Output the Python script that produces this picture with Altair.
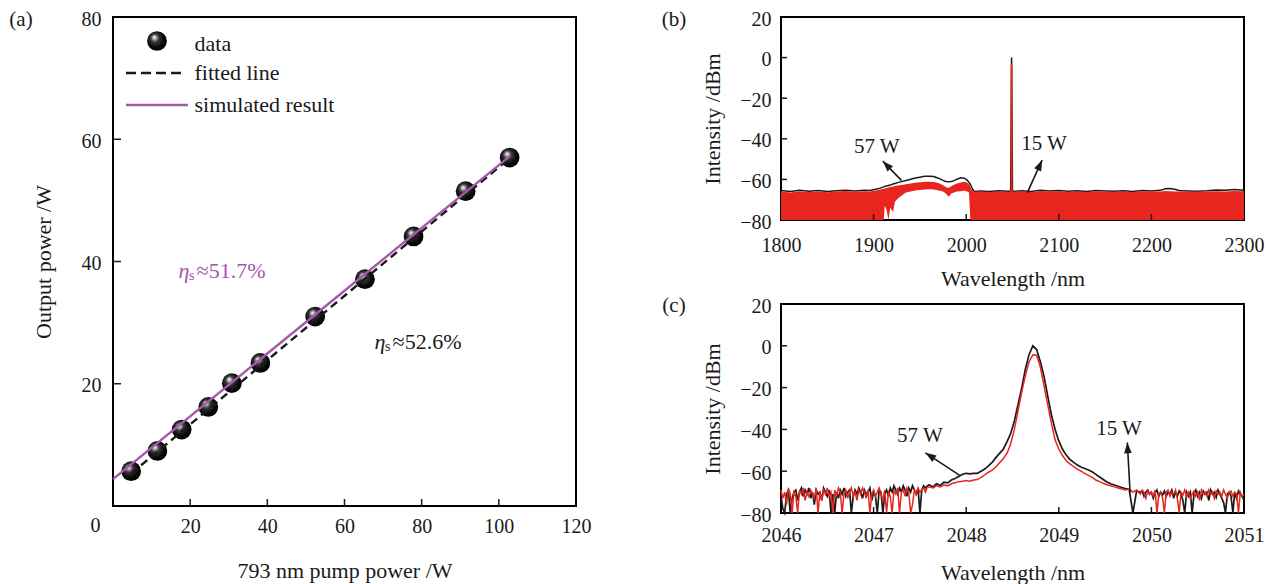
import math
import altair as alt
import pandas as pd

FONT = "Liberation Serif"
INK = "#1a1a1a"
RED = "#e8251f"
PURPLE = "#a557a9"

# ---------------- panel (a) data ----------------
pump_w = [4.7, 11.5, 17.8, 24.7, 30.8, 38.2, 52.4, 65.3, 77.9, 91.4, 102.8]
output_w = [5.7, 9.0, 12.5, 16.2, 20.1, 23.4, 31.0, 37.1, 44.1, 51.5, 57.0]
fit_x = [4.7, 102.8]
fit_y = [5.3, 56.9]
sim_x = [0.0, 102.8]
sim_y = [4.4, 57.2]
a_xticks = [20, 40, 60, 80, 100, 120]
a_yticks = [20, 40, 60, 80]
eta_values = ["≈51.7%", "≈52.6%"]
eta_x = [17.0, 67.8]
eta_y = [38.5, 26.8]
eta_colors = [PURPLE, INK]
legend_labels = ["data", "fitted line", "simulated result"]

# ---------------- panel (b) data ----------------
b_wl = [1800, 1810, 1820, 1830, 1840, 1850, 1860, 1870, 1880, 1890, 1896, 1902, 1907,
        1911, 1912, 1914, 1916, 1918, 1921, 1923, 1926, 1930, 1935, 1940, 1945, 1950,
        1955, 1960, 1965, 1970, 1975, 1978, 1981, 1984, 1987, 1990, 1994, 1998, 2001,
        2003, 2004.5, 2006, 2008, 2010, 2015, 2025, 2035, 2045, 2047.9, 2048, 2049, 2050,
        2050.1, 2053, 2060, 2070, 2080, 2090, 2100, 2110, 2120, 2130, 2140, 2150, 2160, 2170, 2180,
        2190, 2200, 2210, 2215, 2220, 2225, 2230, 2240, 2250, 2260, 2270, 2280, 2290, 2300]
b_black = [-65.5, -66.0, -65.4, -65.8, -65.5, -65.9, -65.6, -65.3, -65.7, -65.4, -65.5, -64.9, -64.3,
           -63.7, -63.5, -63.2, -63.0, -62.8, -62.3, -62.0, -61.6, -61.1, -60.5, -59.9, -59.3, -58.9,
           -58.5, -58.4, -58.6, -59.4, -60.5, -61.0, -61.2, -61.0, -60.6, -59.9, -59.2, -59.4, -60.3,
           -61.5, -62.5, -64.0, -65.5, -66.0, -65.7, -65.9, -65.6, -65.8, -65.8, -66.0, 0.0, -66.0,
           -65.8, -65.8, -65.6, -65.9, -65.3, -65.7, -65.5, -65.8, -65.6, -65.9, -65.5, -65.7, -65.8, -65.6, -65.9,
           -65.5, -65.7, -65.4, -64.6, -64.5, -64.9, -65.5, -65.7, -65.8, -65.6, -65.2, -65.4, -65.0, -65.3]
b_red_top = [-65.9, -66.4, -65.8, -66.2, -66.0, -66.3, -65.9, -65.7, -66.1, -65.8, -65.9, -65.5, -65.0,
             -64.6, -64.5, -64.2, -64.0, -63.8, -63.5, -63.3, -63.0, -62.7, -62.4, -62.0, -61.7, -61.4,
             -61.2, -61.1, -61.3, -61.8, -62.9, -63.8, -64.2, -63.4, -62.6, -62.0, -61.5, -61.2, -61.6,
             -62.4, -63.6, -65.1, -65.8, -66.1, -65.8, -66.2, -65.9, -66.1, -65.9, -3.6, -3.0, -3.6,
             -65.9, -66.0, -65.8, -66.2, -65.7, -66.0, -65.8, -66.1, -65.9, -66.2, -65.8, -66.0, -66.1, -65.9, -66.2,
             -65.8, -66.0, -65.9, -65.7, -65.8, -66.0, -65.9, -66.1, -66.0, -65.9, -65.8, -65.9, -65.7, -65.8]
b_red_bottom = [-80, -80, -80, -80, -80, -80, -80, -80, -80, -80, -80, -80, -80,
                -80, -73, -75, -80, -74, -76, -71, -69.5, -68, -66.5, -66, -65.5, -65.2,
                -65, -64.9, -65, -65.5, -66, -67, -68.5, -67, -66.5, -66, -65.8, -65.6, -66,
                -66.5, -80, -80, -80, -80, -80, -80, -80, -80, -80, -80, -80, -80,
                -80, -80, -80, -80, -80, -80, -80, -80, -80, -80, -80, -80, -80, -80, -80,
                -80, -80, -80, -80, -80, -80, -80, -80, -80, -80, -80, -80, -80, -80]
b_labels = ["57 W", "15 W"]
b_label_x = [1903.5, 2084.0]
b_label_y = [-43.8, -42.6]
b_arrow_tail_x = [1930.0, 2066.0]
b_arrow_tail_y = [-60.5, -66.5]
b_arrow_head_x = [1910.0, 2082.0]
b_arrow_head_y = [-51.0, -50.5]

# ---------------- panel (c) data ----------------
c_wl_left = [
    2046.00, 2046.02, 2046.04, 2046.06, 2046.08, 2046.10, 2046.12, 2046.14, 2046.16, 2046.18,
    2046.20, 2046.22, 2046.24, 2046.26, 2046.28, 2046.30, 2046.32, 2046.34, 2046.36, 2046.38,
    2046.40, 2046.42, 2046.44, 2046.46, 2046.48, 2046.50, 2046.52, 2046.54, 2046.56, 2046.58,
    2046.60, 2046.62, 2046.64, 2046.66, 2046.68, 2046.70, 2046.72, 2046.74, 2046.76, 2046.78,
    2046.80, 2046.82, 2046.84, 2046.86, 2046.88, 2046.90, 2046.92, 2046.94, 2046.96, 2046.98,
    2047.00, 2047.02, 2047.04, 2047.06, 2047.08, 2047.10, 2047.12, 2047.14, 2047.16, 2047.18,
    2047.20, 2047.22, 2047.24, 2047.26, 2047.28, 2047.30, 2047.32, 2047.34, 2047.36, 2047.38,
    2047.40, 2047.42, 2047.44, 2047.46, 2047.48, 2047.50, 2047.52, 2047.54, 2047.56, 2047.58,
    2047.60]
c_wl_mid = [
    2047.64, 2047.68, 2047.72, 2047.76, 2047.80, 2047.84, 2047.88, 2047.92, 2047.96,
    2048.00, 2048.04, 2048.08, 2048.12, 2048.16, 2048.20, 2048.24, 2048.28, 2048.32, 2048.36,
    2048.40, 2048.44, 2048.48, 2048.52, 2048.56, 2048.60, 2048.64, 2048.68, 2048.72, 2048.76,
    2048.80, 2048.84, 2048.88, 2048.92, 2048.96,
    2049.00, 2049.04, 2049.08, 2049.12, 2049.16, 2049.20, 2049.24, 2049.28, 2049.32, 2049.36,
    2049.40, 2049.44, 2049.48, 2049.52, 2049.56, 2049.60, 2049.64, 2049.68, 2049.72, 2049.76,
    2049.80, 2049.84]
c_wl_right = [
    2049.88, 2049.90, 2049.92, 2049.94, 2049.96, 2049.98,
    2050.00, 2050.02, 2050.04, 2050.06, 2050.08, 2050.10, 2050.12, 2050.14, 2050.16, 2050.18,
    2050.20, 2050.22, 2050.24, 2050.26, 2050.28, 2050.30, 2050.32, 2050.34, 2050.36, 2050.38,
    2050.40, 2050.42, 2050.44, 2050.46, 2050.48, 2050.50, 2050.52, 2050.54, 2050.56, 2050.58,
    2050.60, 2050.62, 2050.64, 2050.66, 2050.68, 2050.70, 2050.72, 2050.74, 2050.76, 2050.78,
    2050.80, 2050.82, 2050.84, 2050.86, 2050.88, 2050.90, 2050.92, 2050.94, 2050.96, 2050.98,
    2051.00]
c_black = [
    -72, -78, -80, -71, -69, -80, -73, -70, -69, -74,
    -70, -68, -72, -69, -71, -68, -73, -70, -76, -69,
    -71, -70, -74, -68, -70, -72, -69, -80, -71, -80,
    -70, -73, -69, -71, -68, -72, -70, -69, -80, -72,
    -69, -71, -68, -70, -73, -69, -71, -70, -68, -74,
    -70, -72, -80, -69, -70, -80, -71, -69, -72, -68,
    -70, -67, -69, -71, -68, -70, -67, -69, -72, -68,
    -70, -67, -69, -71, -68, -80, -69, -67, -68, -67,
    -66.5,
    -67.5, -66, -66.8, -65.2, -65.6, -64.2, -63.5, -62.5, -61.5,
    -61, -61.3, -61, -61, -60, -59, -57.5, -55.8, -53.5, -51.5,
    -49.5, -46, -42, -36, -28, -20, -11, -4, 0, -1.8,
    -7.5, -14.5, -24, -33, -40,
    -45.5, -49.5, -52.3, -54.3, -55.8, -57, -58, -58.7, -59.4, -60.3,
    -61.5, -62.8, -64, -65.2, -66, -66.6, -67.2, -67.8, -68.3, -68.7,
    -80, -69.5,
    -70, -69.5, -72, -70, -69, -71,
    -70, -73, -70.5, -69, -72, -70, -71.5, -69.5, -72, -70,
    -71, -69, -73, -70, -72, -69.5, -71, -74, -80, -70,
    -72, -70, -80, -71, -69, -72, -70, -73, -69.5, -71,
    -70, -74, -69, -71, -70, -72.5, -69, -71, -73, -75,
    -80, -71, -70, -72, -80, -70, -73, -69.5, -71, -72,
    -74]
c_red = [
    -69, -73, -70, -76, -68, -71, -80, -70, -72, -80,
    -69, -71, -68, -74, -70, -72, -69, -71, -73, -68,
    -80, -70, -74, -69, -71, -68, -72, -70, -80, -69,
    -72, -68, -70, -80, -71, -69, -73, -70, -68, -72,
    -70, -74, -69, -71, -68, -70, -73, -69, -80, -71,
    -69, -72, -70, -68, -71, -74, -69, -80, -70, -72,
    -80, -69, -71, -68, -80, -70, -69, -72, -68, -70,
    -80, -76, -69, -71, -68, -70, -69, -68, -70, -67.5,
    -67.5,
    -68, -67, -67.5, -66.5, -67, -66, -65.5, -65, -64.8,
    -64.5, -64.8, -64.2, -64, -63, -61.8, -60.5, -59.5, -58, -56,
    -54, -51.5, -47, -40, -31, -22, -14, -7.5, -4.3, -4.5,
    -10, -19, -28, -37, -45,
    -49.5, -52.5, -55, -56.5, -57.8, -59, -60, -61, -62, -63,
    -64.2, -65, -65.8, -66.5, -67, -67.5, -68, -68.5, -69, -68.5,
    -70, -69,
    -71, -69, -70, -73, -69.5, -71,
    -70, -72, -69, -80, -71, -70, -72.5, -80, -70, -69,
    -72, -70, -71, -69, -73, -80, -70, -71.5, -69, -72,
    -70, -73, -71, -69.5, -72, -70, -74, -69, -71, -70,
    -72, -69, -71, -70, -73, -69.5, -71, -70, -72, -69,
    -71, -73, -70, -69.5, -72, -70, -71, -80, -70, -72,
    -71]
c_labels = ["57 W", "15 W"]
c_label_x = [2047.5, 2049.65]
c_label_y = [-43.2, -39.6]
c_arrow_tail_x = [2047.93, 2049.77]
c_arrow_tail_y = [-62.0, -70.3]
c_arrow_head_x = [2047.56, 2049.74]
c_arrow_head_y = [-51.2, -46.3]

# ---------------- layout ----------------
AW, AH = 463, 489
BW, BH = 463, 203
CW, CH = 463, 209

SPHERE = {
    "gradient": "radial", "x1": 0.36, "y1": 0.3, "r1": 0.0,
    "x2": 0.45, "y2": 0.45, "r2": 0.58,
    "stops": [
        {"offset": 0.0, "color": "#ffffff"},
        {"offset": 0.12, "color": "#c8c8c8"},
        {"offset": 0.35, "color": "#3a3a3a"},
        {"offset": 0.7, "color": "#0b0b0b"},
        {"offset": 1.0, "color": "#000000"},
    ],
}
ARROW = "M0,0L0.36,1L-0.36,1Z"


def one(text):
    return pd.DataFrame({"t": [text]})


class Panel:
    def __init__(self, sx, sy, ax, ay):
        self.sx, self.sy, self.ax, self.ay = sx, sy, ax, ay

    def X(self, f):
        return alt.X(f, scale=self.sx, axis=self.ax)

    def Y(self, f):
        return alt.Y(f, scale=self.sy, axis=self.ay)


def xticks(P, vals, H, length=7):
    return alt.Chart(pd.DataFrame({"x": vals})).mark_rule(color=INK, strokeWidth=1.5).encode(
        x=P.X("x:Q"), y=alt.value(H), y2=alt.value(H - length))


def yticks(P, vals, length=8):
    return alt.Chart(pd.DataFrame({"y": vals})).mark_rule(color=INK, strokeWidth=1.5).encode(
        y=P.Y("y:Q"), x=alt.value(0), x2=alt.value(length))


def arrows(P, tx, ty, hx, hy, xdom, ydom, W, H):
    kx = W / (xdom[1] - xdom[0])
    ky = H / (ydom[1] - ydom[0])
    ang = []
    for a, b, c, d in zip(tx, ty, hx, hy):
        dx = (c - a) * kx
        dy = -(d - b) * ky
        ang.append(math.degrees(math.atan2(dx, -dy)) % 360)
    df = pd.DataFrame({"x": tx, "y": ty, "hx": hx, "hy": hy, "ang": ang})
    shaft = alt.Chart(df).mark_rule(color=INK, strokeWidth=1.6).encode(
        x=P.X("x:Q"), y=P.Y("y:Q"), x2="hx:Q", y2="hy:Q")
    head = alt.Chart(df).mark_point(shape=ARROW, filled=True, size=460, color=INK,
                                    opacity=1, strokeWidth=0).encode(
        x=P.X("hx:Q"), y=P.Y("hy:Q"), angle=alt.Angle("ang:Q", scale=None))
    return [shaft, head]


def tag(text, y=3):
    return alt.Chart(one(text)).mark_text(fontSize=21, color=INK, baseline="middle").encode(
        x=alt.value(-92 if text == "(a)" else -107), y=alt.value(y), text="t:N")


# ---------------- panel (a) ----------------
PA = Panel(
    alt.Scale(domain=[0, 120], nice=False, zero=False),
    alt.Scale(domain=[0, 80], nice=False, zero=False),
    alt.Axis(values=a_xticks, title="793 nm pump power /W", labelPadding=10, titleY=64,
             titleBaseline="middle"),
    alt.Axis(values=a_yticks, title="Output power /W", labelPadding=12, labelOffset=2,
             titleX=-70, titleBaseline="middle"),
)

a_points = alt.Chart(pd.DataFrame({"x": pump_w, "y": output_w})).mark_circle(
    size=390, fill=SPHERE, opacity=1, fillOpacity=1).encode(x=PA.X("x:Q"), y=PA.Y("y:Q"))
a_fit = alt.Chart(pd.DataFrame({"x": fit_x, "y": fit_y})).mark_line(
    color=INK, strokeWidth=2.4, strokeDash=[8, 5]).encode(x=PA.X("x:Q"), y=PA.Y("y:Q"))
a_sim = alt.Chart(pd.DataFrame({"x": sim_x, "y": sim_y})).mark_line(
    color=PURPLE, strokeWidth=2.4).encode(x=PA.X("x:Q"), y=PA.Y("y:Q"))

eta_df = pd.DataFrame({"x": eta_x, "y": eta_y, "v": eta_values, "c": eta_colors,
                       "eta": ["η", "η"], "s": ["s", "s"]})
a_eta1 = alt.Chart(eta_df).mark_text(fontSize=22, fontStyle="italic", align="left",
                                     baseline="middle").encode(
    x=PA.X("x:Q"), y=PA.Y("y:Q"), color=alt.Color("c:N", scale=None), text="eta:N")
a_eta2 = alt.Chart(eta_df).mark_text(fontSize=14, align="left", baseline="middle",
                                     dx=10.5, dy=5).encode(
    x=PA.X("x:Q"), y=PA.Y("y:Q"), color=alt.Color("c:N", scale=None), text="s:N")
a_eta3 = alt.Chart(eta_df).mark_text(fontSize=22, align="left", baseline="middle",
                                     dx=18).encode(
    x=PA.X("x:Q"), y=PA.Y("y:Q"), color=alt.Color("c:N", scale=None), text="v:N")

leg_sphere = alt.Chart(one("data")).mark_circle(size=390, fill=SPHERE, opacity=1, fillOpacity=1).encode(
    x=alt.value(44), y=alt.value(24))
leg_dash = alt.Chart(one("fit")).mark_rule(color=INK, strokeWidth=2.6, strokeDash=[10, 5]).encode(
    x=alt.value(13), x2=alt.value(70), y=alt.value(56))
leg_line = alt.Chart(one("sim")).mark_rule(color=PURPLE, strokeWidth=2.6).encode(
    x=alt.value(13), x2=alt.value(75), y=alt.value(88))
leg_text = [
    alt.Chart(one(lbl)).mark_text(fontSize=22, color=INK, align="left", baseline="middle").encode(
        x=alt.value(81.5), y=alt.value(yy), text="t:N")
    for lbl, yy in zip(legend_labels, [27, 56, 88])
]
a_zero = alt.Chart(one("0")).mark_text(fontSize=20, color=INK, baseline="middle").encode(
    x=alt.value(-17.5), y=alt.value(AH + 20), text="t:N")

panel_a = alt.layer(
    a_points, a_fit, a_sim,
    xticks(PA, [20, 40, 60, 80, 100], AH), yticks(PA, [20, 40, 60]),
    a_eta1, a_eta2, a_eta3, leg_sphere, leg_dash, leg_line, *leg_text, a_zero, tag("(a)"),
).properties(width=AW, height=AH)

# ---------------- panel (b) ----------------
xdom_b, ydom = [1800, 2300], [-80, 20]
PB = Panel(
    alt.Scale(domain=xdom_b, nice=False, zero=False),
    alt.Scale(domain=ydom, nice=False, zero=False),
    alt.Axis(values=[1800, 1900, 2000, 2100, 2200, 2300], format="d", title="Wavelength /nm",
             labelPadding=15, titleY=58, titleBaseline="middle"),
    alt.Axis(values=[-80, -60, -40, -20, 0, 20], title="Intensity /dBm", labelPadding=10,
             labelOffset=2, titleX=-69, titleBaseline="middle"),
)
df_b = pd.DataFrame({"x": b_wl, "black": b_black, "rtop": b_red_top, "rbot": b_red_bottom})

b_line = alt.Chart(df_b).mark_line(color=INK, strokeWidth=1.5).encode(x=PB.X("x:Q"), y=PB.Y("black:Q"))
b_area = alt.Chart(df_b).mark_area(color=RED, opacity=1).encode(
    x=PB.X("x:Q"), y=PB.Y("rtop:Q"), y2="rbot:Q")
b_text = alt.Chart(pd.DataFrame({"x": b_label_x, "y": b_label_y, "t": b_labels})).mark_text(
    fontSize=21, color=INK, baseline="middle").encode(x=PB.X("x:Q"), y=PB.Y("y:Q"), text="t:N")

panel_b = alt.layer(
    b_line, b_area,
    xticks(PB, [1900, 2000, 2100, 2200], BH, 6), yticks(PB, [-60, -40, -20, 0], 6),
    *arrows(PB, b_arrow_tail_x, b_arrow_tail_y, b_arrow_head_x, b_arrow_head_y,
            xdom_b, ydom, BW, BH),
    b_text, tag("(b)"),
).properties(width=BW, height=BH)

# ---------------- panel (c) ----------------
xdom_c = [2046, 2051]
PC = Panel(
    alt.Scale(domain=xdom_c, nice=False, zero=False),
    alt.Scale(domain=ydom, nice=False, zero=False),
    alt.Axis(values=[2046, 2047, 2048, 2049, 2050, 2051], format="d", title="Wavelength /nm",
             labelPadding=12, titleY=59, titleBaseline="middle"),
    alt.Axis(values=[-80, -60, -40, -20, 0, 20], title="Intensity /dBm", labelPadding=10,
             labelOffset=2, titleX=-69, titleBaseline="middle"),
)
df_c = pd.DataFrame({"x": c_wl_left + c_wl_mid + c_wl_right, "black": c_black, "red": c_red})

c_bl = alt.Chart(df_c).mark_line(color=INK, strokeWidth=1.7).encode(x=PC.X("x:Q"), y=PC.Y("black:Q"))
c_rd = alt.Chart(df_c).mark_line(color=RED, strokeWidth=1.5).encode(x=PC.X("x:Q"), y=PC.Y("red:Q"))
c_text = alt.Chart(pd.DataFrame({"x": c_label_x, "y": c_label_y, "t": c_labels})).mark_text(
    fontSize=21, color=INK, baseline="middle").encode(x=PC.X("x:Q"), y=PC.Y("y:Q"), text="t:N")

panel_c = alt.layer(
    c_bl, c_rd,
    xticks(PC, [2047, 2048, 2049, 2050], CH, 6), yticks(PC, [-60, -40, -20, 0], 6),
    *arrows(PC, c_arrow_tail_x, c_arrow_tail_y, c_arrow_head_x, c_arrow_head_y,
            xdom_c, ydom, CW, CH),
    c_text, tag("(c)", 2),
).properties(width=CW, height=CH)

right = alt.vconcat(panel_b, panel_c, spacing=84, bounds="flush")
chart = alt.hconcat(panel_a, right, spacing=205, bounds="flush").properties(
    padding={"left": 0, "top": 0, "right": 0, "bottom": 0}
).configure_view(
    stroke="black", strokeWidth=2
).configure_axis(
    labelFont=FONT, titleFont=FONT, labelFontSize=20, titleFontSize=22,
    labelColor=INK, titleColor=INK, titleFontWeight="normal",
    grid=False, domain=False, ticks=False, tickSize=0,
    labelFlush=False, labelOverlap=False
).configure_text(font=FONT)

chart.save("out.html", embed_options={"renderer": "svg", "actions": False})
